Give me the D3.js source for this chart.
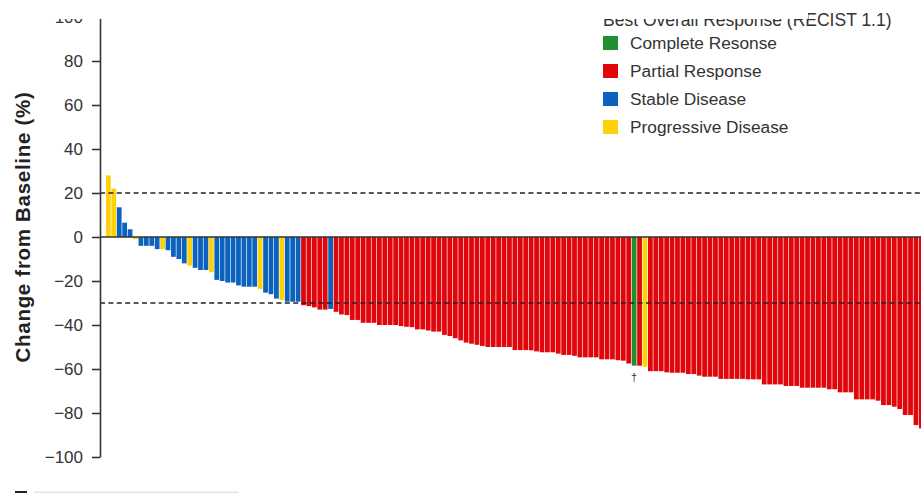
<!DOCTYPE html>
<html>
<head>
<meta charset="utf-8">
<script src="https://cdn.jsdelivr.net/npm/d3@7/dist/d3.min.js"></script>
<style>
  html, body { margin: 0; padding: 0; background: #fff; }
  svg { display: block; }
  text { font-family: "Liberation Sans", Arial, Helvetica, sans-serif; }
</style>
</head>
<body>
<svg id="chart" width="921" height="493"></svg>
<script>
// ---- data ----
const categories = ["CR", "PR", "SD", "PD"];
const categoryLabels = ["Complete Resonse", "Partial Response", "Stable Disease", "Progressive Disease"];
const categoryColors = ["#1f8f2f", "#e0060b", "#0b63bf", "#fdd20a"];
const legendTitle = "Best Overall Response (RECIST 1.1)";
const yTicks = [-100, -80, -60, -40, -20, 0, 20, 40, 60, 80, 100];
const thresholds = [20, -30];

const changeValues = [
  28, 22, 13.5, 6.5, 3.5, -1, -4, -4, -4, -5.5,
  -5.5, -6, -9, -10, -12, -13, -14, -15, -15, -16,
  -19.5, -20, -20.7, -20.7, -22, -22.6, -22.6, -22.6, -23.6, -25.3,
  -26, -28, -28.6, -29.4, -29.4, -29.4, -31, -31.4, -32, -33,
  -33, -32.7, -34, -35.2, -35.5, -37.7, -37.7, -39, -39, -39,
  -40, -40, -40, -40, -40.5, -40.8, -41, -42, -42, -42.5,
  -43, -43, -44.5, -45, -46, -47, -48, -48.5, -49, -49.5,
  -50, -50, -50, -50, -50, -51.4, -51.4, -51.4, -51.5, -52,
  -52.4, -52.4, -52.4, -53, -53.6, -53.6, -54, -54.7, -54.7, -54.7,
  -54.7, -55.6, -55.6, -55.6, -56, -56.2, -57.5, -58.5, -58.5, -59,
  -61, -61, -61, -61.5, -61.7, -61.7, -61.7, -62.3, -62.3, -63,
  -63.5, -63.5, -63.5, -64.5, -64.5, -64.5, -64.5, -64.5, -64.7, -64.7,
  -64.7, -67, -67, -67, -67, -67.7, -67.7, -67.7, -68.5, -68.5,
  -68.5, -68.5, -68.5, -69.2, -69.2, -70.6, -70.6, -70.6, -73.8, -73.8,
  -73.8, -73.8, -74.4, -76.4, -76.4, -77.1, -78.2, -80.9, -80.9, -85.5,
  -87
];

const responses = [
  "PD","PD","SD","SD","SD","PD","SD","SD","SD","SD",
  "PD","SD","SD","SD","SD","PD","SD","SD","SD","PD",
  "SD","SD","SD","SD","SD","SD","SD","SD","PD","SD",
  "SD","SD","PD","SD","SD","SD","PR","PR","PR","PR",
  "PR","SD","PR","PR","PR","PR","PR","PR","PR","PR",
  "PR","PR","PR","PR","PR","PR","PR","PR","PR","PR",
  "PR","PR","PR","PR","PR","PR","PR","PR","PR","PR",
  "PR","PR","PR","PR","PR","PR","PR","PR","PR","PR",
  "PR","PR","PR","PR","PR","PR","PR","PR","PR","PR",
  "PR","PR","PR","PR","PR","PR","PR","CR","PR","PD",
  "PR","PR","PR","PR","PR","PR","PR","PR","PR","PR",
  "PR","PR","PR","PR","PR","PR","PR","PR","PR","PR",
  "PR","PR","PR","PR","PR","PR","PR","PR","PR","PR",
  "PR","PR","PR","PR","PR","PR","PR","PR","PR","PR",
  "PR","PR","PR","PR","PR","PR","PR","PR","PR","PR",
  "PR"
];
const daggerPatients = [97];

// ---- chart ----
const svg = d3.select("#chart");
const W = 921, H = 493;
const n = changeValues.length;
const pad = 0.12, step = 5.42, x0 = 106;

const x = d3.scaleBand()
  .domain(d3.range(n))
  .range([x0, x0 + step * (n - pad)])
  .paddingInner(pad)
  .paddingOuter(0);

const y = d3.scaleLinear().domain([-100, 100]).range([457, 17]);
const color = d3.scaleOrdinal().domain(categories).range(categoryColors);

const axisX = 100;

// bars
svg.append("g").selectAll("rect")
  .data(changeValues)
  .join("rect")
  .attr("x", (d, i) => x(i))
  .attr("width", x.bandwidth())
  .attr("y", d => y(Math.max(0, d)))
  .attr("height", d => Math.abs(y(d) - y(0)))
  .attr("fill", (d, i) => color(responses[i]));

// dagger
svg.append("g").selectAll("text")
  .data(daggerPatients)
  .join("text")
  .attr("x", i => x(i) + x.bandwidth() / 2)
  .attr("y", i => y(changeValues[i]) + 15)
  .attr("text-anchor", "middle")
  .attr("font-size", 11)
  .attr("fill", "#333")
  .text("†");

// threshold dashed lines
svg.append("g").selectAll("line")
  .data(thresholds)
  .join("line")
  .attr("x1", axisX).attr("x2", W)
  .attr("y1", d => y(d)).attr("y2", d => y(d))
  .attr("stroke", "#222")
  .attr("stroke-width", 1.3)
  .attr("stroke-dasharray", "5,3.4");

// zero line
svg.append("line")
  .attr("x1", axisX).attr("x2", W)
  .attr("y1", y(0)).attr("y2", y(0))
  .attr("stroke", "#333")
  .attr("stroke-width", 1.6);

// y axis
const yAxis = d3.axisLeft(y)
  .tickValues(yTicks)
  .tickSize(8)
  .tickSizeOuter(0)
  .tickPadding(9);

const gy = svg.append("g")
  .attr("transform", `translate(${axisX},0)`)
  .call(yAxis);
gy.select(".domain").attr("stroke", "#333").attr("stroke-width", 1.6);
gy.selectAll(".tick line").attr("stroke", "#333").attr("stroke-width", 1.6);
gy.selectAll(".tick text")
  .attr("font-size", 17)
  .attr("fill", "#333")
  .style("font-family", "'Liberation Sans', Arial, sans-serif");

// y title
svg.append("text")
  .attr("transform", `translate(30,227) rotate(-90)`)
  .attr("text-anchor", "middle")
  .attr("font-size", 20.5)
  .attr("font-weight", "bold")
  .attr("letter-spacing", 0.7)
  .attr("fill", "#222")
  .text("Change from Baseline (%)");

// legend
const lg = svg.append("g");
lg.append("text")
  .attr("x", 603).attr("y", 25.5)
  .attr("font-size", 17.5)
  .attr("fill", "#333")
  .text(legendTitle);

const items = lg.selectAll("g.item")
  .data(categories)
  .join("g")
  .attr("class", "item")
  .attr("transform", (d, i) => `translate(603,${43 + i * 28})`);
items.append("rect")
  .attr("x", 0).attr("y", -7)
  .attr("width", 15).attr("height", 14)
  .attr("fill", d => color(d));
items.append("text")
  .attr("x", 27).attr("y", 6)
  .attr("font-size", 17.3)
  .attr("fill", "#333")
  .text((d, i) => categoryLabels[i]);

// cropped edge of the original figure (top band masked)
svg.append("rect")
  .attr("x", 0).attr("y", 0)
  .attr("width", 808).attr("height", 19)
  .attr("fill", "#fff");

// partially visible mark at the bottom edge
svg.append("rect")
  .attr("x", 15).attr("y", 491)
  .attr("width", 12).attr("height", 10)
  .attr("fill", "#222");
svg.append("rect")
  .attr("x", 34).attr("y", 491.5)
  .attr("width", 205).attr("height", 2)
  .attr("fill", "#e4e4e4");
</script>
</body>
</html>
